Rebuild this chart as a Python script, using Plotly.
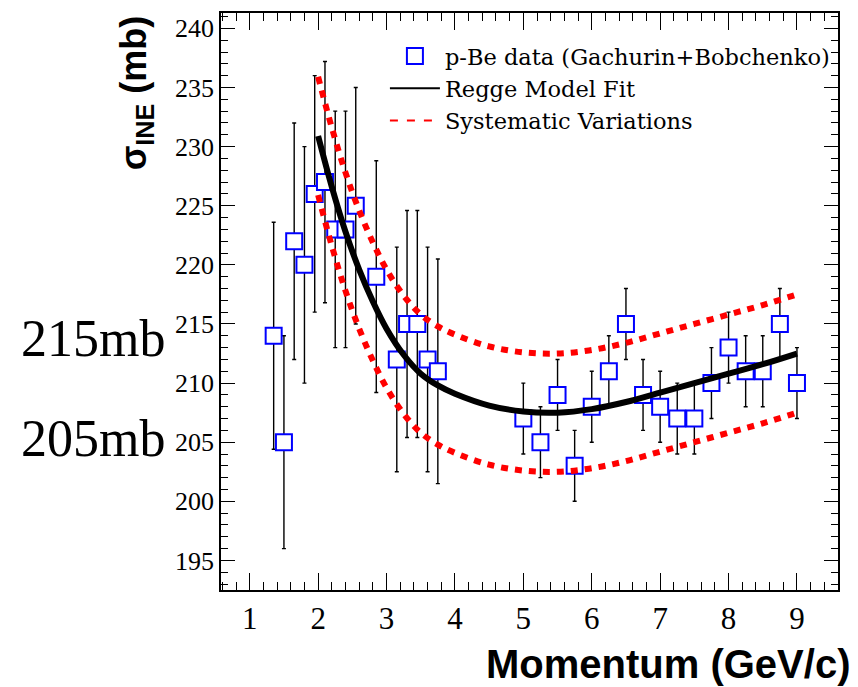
import plotly.graph_objects as go

# p-Be inelastic cross section measurements
momentum = [1.35, 1.5, 1.65, 1.8, 1.95, 2.1, 2.25, 2.4, 2.55, 2.85, 3.15, 3.3, 3.45, 3.6, 3.75,
            5.0, 5.25, 5.5, 5.75, 6.0, 6.25, 6.5, 6.75, 7.0, 7.25, 7.5, 7.75, 8.0, 8.25, 8.5, 8.75, 9.0]
sigma_ine = [214, 205, 222, 220, 226, 227, 223, 223, 225, 219, 212, 215, 215, 212, 211,
             207, 205, 209, 203, 208, 211, 215, 209, 208, 207, 207, 210, 213, 211, 211, 215, 210]
sigma_err = [9.6, 9.0, 10.0, 10.0, 10.0, 10.2, 10.0, 10.0, 10.0, 9.8, 9.5, 9.6, 9.6, 9.5, 9.5,
             3, 3, 3, 3, 3, 3, 3, 3, 3, 3, 3, 3, 3, 3, 3, 3, 3]

# Regge model fit and its systematic band
fit_p = [2.0, 2.2, 2.4, 2.6, 2.8, 3.0, 3.25, 3.5, 3.75, 4.0, 4.5, 5.0, 5.5, 6.0, 6.5, 7.0, 7.5, 8.0, 8.5, 9.0]
fit_sigma = [230.9, 226.6, 222.8, 219.6, 216.9, 214.6, 212.4, 210.8, 209.8, 209.1, 208.1, 207.6,
             207.5, 207.8, 208.4, 209.2, 210.0, 210.8, 211.6, 212.5]
sys_high = [235.9, 231.6, 227.8, 224.6, 221.9, 219.6, 217.4, 215.8, 214.8, 214.1, 213.1, 212.6,
            212.5, 212.8, 213.4, 214.2, 215.0, 215.8, 216.6, 217.5]
sys_low = [225.9, 221.6, 217.8, 214.6, 211.9, 209.6, 207.4, 205.8, 204.8, 204.1, 203.1, 202.6,
           202.5, 202.8, 203.4, 204.2, 205.0, 205.8, 206.6, 207.5]

x_ticks = [1, 2, 3, 4, 5, 6, 7, 8, 9]
y_ticks = [195, 200, 205, 210, 215, 220, 225, 230, 235, 240]

SERIF = "Liberation Serif"
SANS = "Liberation Sans"
RED = "#ff0000"
BLUE = "#0000ff"

fig = go.Figure()

# data points with error bars (white-filled open squares)
fig.add_trace(go.Scatter(
    x=momentum, y=sigma_ine, mode="markers",
    name="p-Be data (Gachurin+Bobchenko)",
    marker=dict(symbol="square", size=16, color="white", line=dict(color=BLUE, width=2)),
    error_y=dict(type="data", array=sigma_err, color="black", thickness=1.4, width=2),
))

# systematic variations
for band in (sys_high, sys_low):
    fig.add_trace(go.Scatter(
        x=fit_p, y=band, mode="lines", showlegend=False,
        line=dict(color=RED, width=6, dash="7px,7px", shape="spline", smoothing=1),
    ))

# fit curve
fig.add_trace(go.Scatter(
    x=fit_p, y=fit_sigma, mode="lines", showlegend=False,
    line=dict(color="black", width=6, shape="spline", smoothing=1),
))

# legend entries with thin line samples
fig.add_trace(go.Scatter(
    x=[None], y=[None], mode="lines", name="Regge Model Fit",
    line=dict(color="black", width=2),
))
fig.add_trace(go.Scatter(
    x=[None], y=[None], mode="lines", name="Systematic Variations",
    line=dict(color=RED, width=2, dash="8px,9px"),
))

axis_common = dict(
    showline=True, linecolor="black", linewidth=1.5, mirror="allticks",
    ticks="inside", tickcolor="black", tickwidth=1.3,
    showgrid=False, zeroline=False,
    tickfont=dict(family=SERIF, color="black"),
)

fig.update_xaxes(
    range=[0.58, 9.6], tickvals=x_ticks, ticklen=17,
    minor=dict(dtick=0.2, ticks="inside", ticklen=8, tickcolor="black", tickwidth=1.3, showgrid=False),
    **axis_common,
)
fig.update_layout(xaxis_tickfont_size=31)
fig.update_yaxes(
    range=[192.5, 241.3], tickvals=y_ticks, ticklen=14,
    minor=dict(dtick=1, ticks="inside", ticklen=7, tickcolor="black", tickwidth=1.3, showgrid=False),
    **axis_common,
)
fig.update_layout(yaxis_tickfont_size=26)

fig.update_layout(
    width=858, height=687,
    margin=dict(l=221, r=20, t=11, b=97),
    plot_bgcolor="white", paper_bgcolor="white",
    showlegend=True,
    legend=dict(
        x=0.995, y=0.962, xanchor="right", yanchor="top",
        bgcolor="rgba(0,0,0,0)", borderwidth=0,
        font=dict(family="DejaVu Serif", size=22.5, color="black"),
        itemwidth=50, tracegroupgap=0,
    ),
    annotations=[
        dict(text="<b>Momentum (GeV/c)</b>", xref="paper", yref="paper",
             x=1.022, y=-0.086, xanchor="right", yanchor="top", showarrow=False,
             font=dict(family=SANS, size=40, color="black")),
        dict(text="<b>σ<sub>INE</sub> (mb)</b>", xref="paper", yref="paper",
             x=-0.138, y=1.0, xanchor="center", yanchor="top", textangle=-90, showarrow=False,
             font=dict(family=SANS, size=36, color="black")),
        dict(text="215mb", xref="paper", yref="y", x=-0.088, y=213.8,
             xanchor="right", yanchor="middle", showarrow=False,
             font=dict(family=SERIF, size=52, color="black")),
        dict(text="205mb", xref="paper", yref="y", x=-0.088, y=205.3,
             xanchor="right", yanchor="middle", showarrow=False,
             font=dict(family=SERIF, size=52, color="black")),
    ],
)

fig.write_html("out.html")
